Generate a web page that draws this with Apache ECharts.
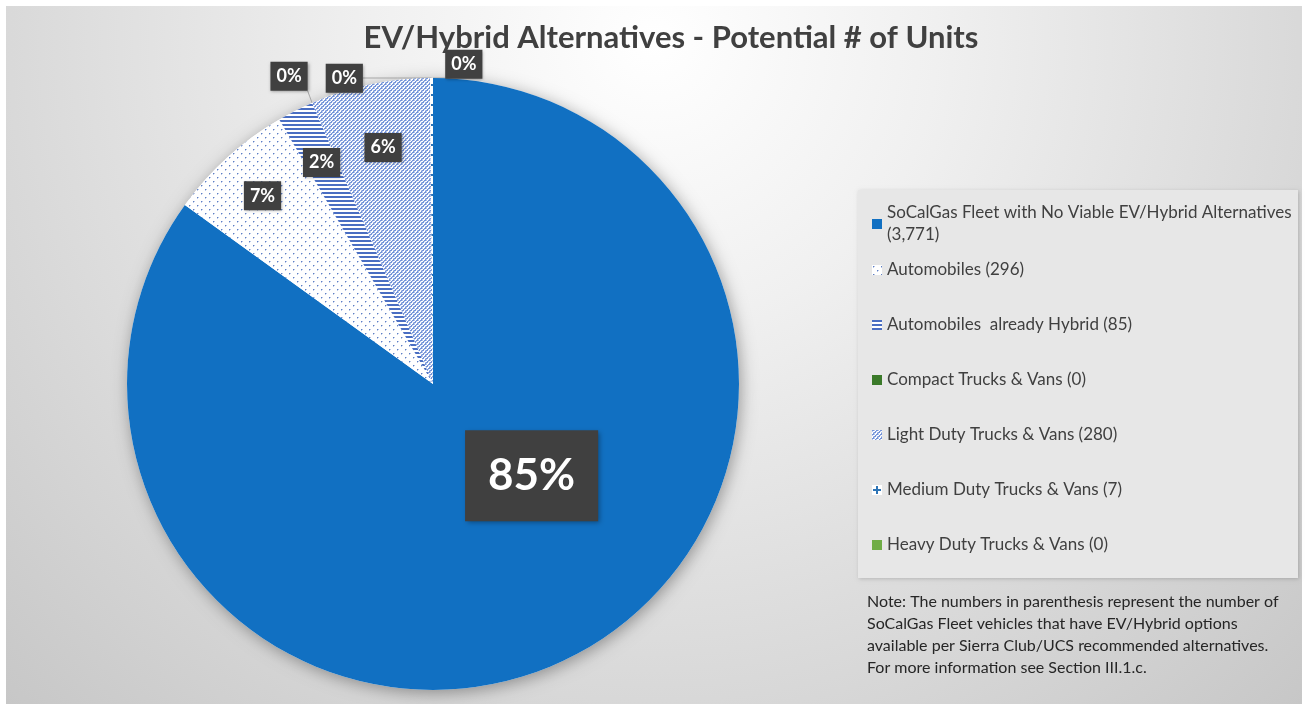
<!DOCTYPE html>
<html>
<head>
<meta charset="utf-8">
<script src="https://cdn.jsdelivr.net/npm/echarts@6/dist/echarts.min.js"></script>
<style>
  html, body { margin: 0; padding: 0; background: #fff; }
  #chart { width: 1308px; height: 704px; }
</style>
</head>
<body>
<div id="chart"></div>
<script>
// data
const categories = [
    'SoCalGas Fleet with No Viable EV/Hybrid Alternatives',
    'Automobiles',
    'Automobiles  already Hybrid',
    'Compact Trucks & Vans',
    'Light Duty Trucks & Vans',
    'Medium Duty Trucks & Vans',
    'Heavy Duty Trucks & Vans'
]
const units = [3771, 296, 85, 0, 280, 7, 0]
const noteLines = [
    'Note: The numbers in parenthesis represent the number of',
    'SoCalGas Fleet vehicles that have EV/Hybrid options',
    'available per Sierra Club/UCS recommended alternatives.',
    'For more information see Section III.1.c.'
]

// label placement: fraction of radius + angle shift (deg) from slice middle
const labelSpots = [
    { r: 0.44, turn: -20 },
    { r: 0.83, turn: 0 },
    { r: 0.81, turn: 0 },
    { r: 1.11, turn: -1.8 },
    { r: 0.79, turn: 0 },
    { r: 1.04, turn: -15.9 },
    { r: 1.05, turn: 5.5 }
]

const PIE_X = 433, PIE_Y = 384, PIE_R = 306
const total = units.reduce((a, b) => a + b, 0)

function tile (w, h, draw) {
    const c = document.createElement('canvas')
    c.width = w
    c.height = h
    const g = c.getContext('2d')
    g.fillStyle = '#ffffff'
    g.fillRect(0, 0, w, h)
    draw(g)
    return c
}

const dotTile = tile(8, 8, g => {
    g.fillStyle = '#5f7fc2'
    g.fillRect(1, 1, 1, 1)
    g.fillRect(5, 5, 1, 1)
    g.fillStyle = '#b9c8ea'
    g.fillRect(2, 1, 1, 1)
    g.fillRect(1, 2, 1, 1)
    g.fillRect(6, 5, 1, 1)
    g.fillRect(5, 6, 1, 1)
})
const stripeTile = tile(4, 4, g => {
    g.fillStyle = '#4a6ec2'
    g.fillRect(0, 0, 4, 2)
})
const weaveTile = tile(4, 4, g => {
    g.fillStyle = '#7393d8'
    ;[[0, 0], [1, 0], [3, 1], [2, 2], [3, 2], [1, 3]].forEach(p => g.fillRect(p[0], p[1], 1, 1))
    g.fillStyle = '#b4c5ec'
    ;[[2, 0], [0, 1], [1, 2], [2, 3]].forEach(p => g.fillRect(p[0], p[1], 1, 1))
})
const plusTile = tile(10, 10, g => {
    g.fillStyle = '#2e75b6'
    g.fillRect(4, 1, 2, 8)
    g.fillRect(1, 4, 8, 2)
})

const fills = [
    '#1170c2',
    { image: dotTile, repeat: 'repeat' },
    { image: stripeTile, repeat: 'repeat' },
    '#3b7a2a',
    { image: weaveTile, repeat: 'repeat' },
    { image: plusTile, repeat: 'repeat' },
    '#70ad47'
]

function midAngle (i, turn) {
    let start = 0
    for (let k = 0; k < i; k++) start += units[k]
    return ((start + units[i] / 2) / total * 360 + turn) * Math.PI / 180
}

function edgeAngle (i) {
    let start = 0
    for (let k = 0; k < i; k++) start += units[k]
    return (start + units[i] / 2) / total * 2 * Math.PI
}

const smallLabel = {
    backgroundColor: '#404040',
    color: '#ffffff',
    fontWeight: 'bold',
    fontSize: 18,
    fontFamily: 'Lato',
    padding: [6, 6, 5, 6],
    shadowBlur: 3,
    shadowColor: 'rgba(0,0,0,0.35)',
    shadowOffsetX: 1,
    shadowOffsetY: 1
}

const pieData = categories.map((name, i) => {
    const item = { name, value: units[i], itemStyle: { color: fills[i] } }
    if (units[i] === 0 || units[i] / total < 0.005) {
        item.label = { position: 'outside' }
        item.labelLine = { show: true, length: 5, length2: 5, lineStyle: { color: '#a6a6a6', width: 1 } }
    } else {
        item.labelLine = { show: false }
    }
    if (i === 0) {
        item.label = { fontSize: 44, padding: [25, 23, 22, 23], shadowBlur: 5, shadowOffsetX: 2, shadowOffsetY: 2 }
    }
    return item
})

function fmt (n) {
    return n.toLocaleString('en-US')
}

const myChart = echarts.init(document.getElementById('chart'))

const legendText = { fontFamily: 'Lato', fontSize: 17, lineHeight: 22, color: '#404040' }

function legendBlock (names, top, gap) {
    return {
        orient: 'vertical',
        left: 867,
        top,
        itemGap: gap,
        itemWidth: 10,
        itemHeight: 10,
        icon: 'rect',
        data: names,
        formatter: name => {
            const i = categories.indexOf(name)
            return i === 0 ? name + '\n(' + fmt(units[i]) + ')' : name + ' (' + fmt(units[i]) + ')'
        },
        textStyle: legendText
    }
}

const option = {
    animation: false,
    title: {
        text: 'EV/Hybrid Alternatives - Potential # of Units',
        left: 666,
        top: 17,
        textAlign: 'center',
        textStyle: {
            fontFamily: 'Lato',
            fontSize: 31,
            fontWeight: 'bold',
            color: '#404040'
        }
    },
    graphic: [
        {
            type: 'rect',
            shape: { x: 6, y: 6, width: 1296, height: 698 },
            style: {
                fill: {
                    type: 'radial', x: 0.5, y: 0.05, r: 1.35,
                    colorStops: [
                        { offset: 0, color: '#ffffff' },
                        { offset: 0.3, color: '#f0f0f0' },
                        { offset: 1, color: '#c6c6c6' }
                    ]
                }
            },
            z: -10,
            silent: true
        },
        {
            type: 'rect',
            shape: { x: 858, y: 190, width: 440, height: 388 },
            style: {
                fill: '#e7e7e7',
                shadowBlur: 4,
                shadowColor: 'rgba(0,0,0,0.18)',
                shadowOffsetX: 1,
                shadowOffsetY: 1
            },
            z: -5,
            silent: true
        },
        {
            type: 'text',
            left: 867,
            top: 591,
            style: {
                text: noteLines.join('\n'),
                fontFamily: 'Lato',
                fontSize: 16,
                lineHeight: 22,
                fill: '#262626'
            },
            silent: true
        }
    ],
    legend: [
        legendBlock(categories.slice(0, 1), 197, 0),
        legendBlock(categories.slice(1, 2), 254, 0),
        legendBlock(categories.slice(2), 309, 33)
    ],
    series: [
        {
            // shadow disc under the pie
            name: 'shadow',
            type: 'pie',
            center: [PIE_X, PIE_Y],
            radius: PIE_R,
            silent: true,
            z: 1,
            label: { show: false },
            labelLine: { show: false },
            itemStyle: {
                color: '#ffffff',
                shadowBlur: 16,
                shadowColor: 'rgba(0,0,0,0.35)',
                shadowOffsetX: 2,
                shadowOffsetY: 3
            },
            data: [{ name: 'all', value: total }]
        },
        {
            name: 'units',
            type: 'pie',
            center: [PIE_X, PIE_Y],
            radius: PIE_R,
            startAngle: 90,
            clockwise: true,
            z: 2,
            avoidLabelOverlap: false,
            emphasis: { scale: false },
            itemStyle: { borderWidth: 0 },
            label: Object.assign({
                show: true,
                position: 'inside',
                formatter: p => Math.round(p.percent) + '%'
            }, smallLabel),
            labelLayout: params => {
                const i = params.dataIndex
                const spot = labelSpots[i]
                const a = midAngle(i, spot.turn)
                const x = PIE_X + PIE_R * spot.r * Math.sin(a)
                const y = PIE_Y - PIE_R * spot.r * Math.cos(a)
                const out = { x, y, align: 'center', verticalAlign: 'middle' }
                if (spot.r > 1) {
                    const e = edgeAngle(i)
                    const ex = PIE_X + PIE_R * Math.sin(e)
                    const ey = PIE_Y - PIE_R * Math.cos(e)
                    const w = params.labelRect.width / 2
                    const h = params.labelRect.height / 2
                    const ax = Math.min(Math.max(ex, x - w), x + w)
                    const ay = Math.min(Math.max(ey, y - h), y + h)
                    out.labelLinePoints = [[ex, ey], [(ex + ax) / 2, (ey + ay) / 2], [ax, ay]]
                }
                return out
            },
            data: pieData
        }
    ]
}

myChart.setOption(option)
</script>
</body>
</html>
